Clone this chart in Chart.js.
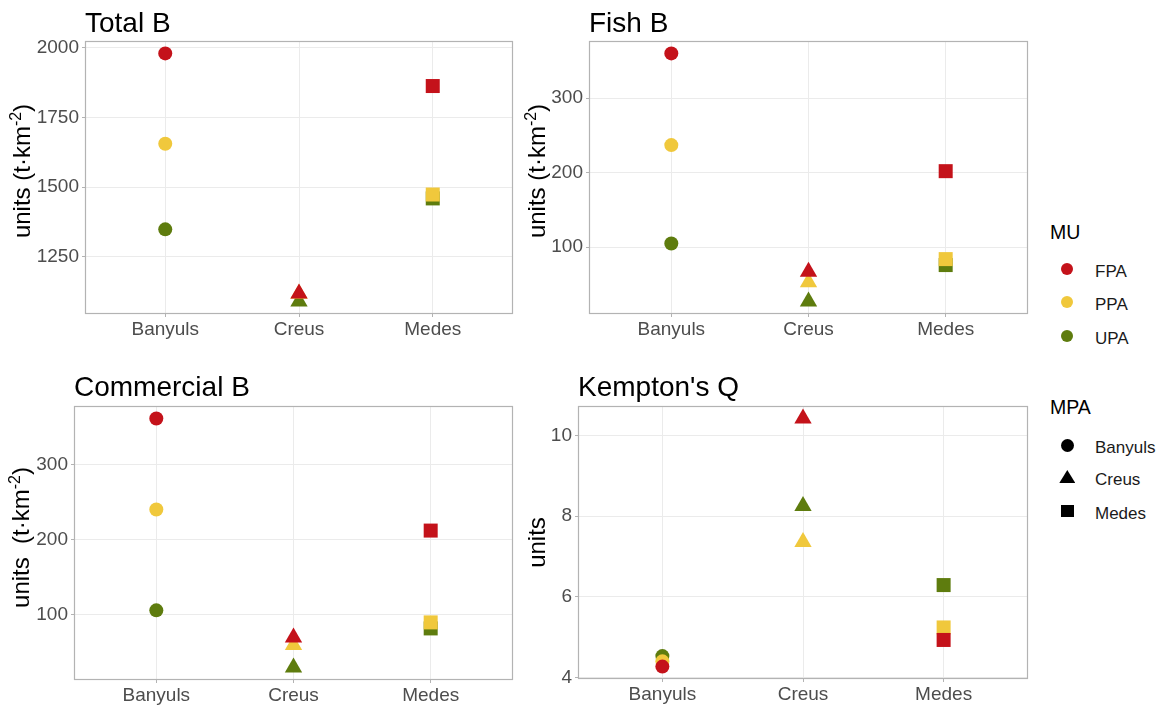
<!DOCTYPE html>
<html>
<head>
<meta charset="utf-8">
<script src="https://cdn.jsdelivr.net/npm/chart.js@4.4.0/dist/chart.umd.min.js"></script>
<style>
  html, body { margin: 0; padding: 0; background: #ffffff; }
  body { width: 1167px; height: 709px; overflow: hidden; position: relative;
         font-family: "Liberation Sans", Arial, sans-serif; }
  canvas { position: absolute; }
  .lt { position: absolute; left: 1050px; font-size: 19.5px; line-height: 19.5px; color: #000; white-space: nowrap; }
  .ll { position: absolute; left: 1095px; font-size: 17px; line-height: 17px; color: #1A1A1A; white-space: nowrap; }
  .mk { position: absolute; }
</style>
</head>
<body>
<canvas id="c1" width="520" height="345" style="left:0px;top:0px"></canvas>
<canvas id="c2" width="515" height="345" style="left:520px;top:0px"></canvas>
<canvas id="c3" width="520" height="349" style="left:0px;top:360px"></canvas>
<canvas id="c4" width="515" height="349" style="left:520px;top:360px"></canvas>

<div id="legend"></div>

<script>
// ---------------- DATA ----------------
const categories = ["Banyuls", "Creus", "Medes"];
const muGroups = ["FPA", "PPA", "UPA"];

const totalB_FPA = [1980, 1119, 1863];
const totalB_PPA = [1656, 1118, 1474];
const totalB_UPA = [1349, 1090, 1460];
const totalB_ticks = [1250, 1500, 1750, 2000];

const fishB_FPA = [360, 67, 202];
const fishB_PPA = [237, 53, 84];
const fishB_UPA = [105, 27, 76];
const fishB_ticks = [100, 200, 300];

const commB_FPA = [361, 70, 212];
const commB_PPA = [240, 60, 90];
const commB_UPA = [106, 30, 82];
const commB_ticks = [100, 200, 300];

const kempQ_FPA = [4.27, 10.42, 4.93];
const kempQ_PPA = [4.40, 7.36, 5.24];
const kempQ_UPA = [4.53, 8.25, 6.29];
const kempQ_ticks = [4, 6, 8, 10];

// ---------------- STYLE ----------------
const FONT = '"Liberation Sans", Arial, sans-serif';
const muColors = { FPA: "#C4121A", PPA: "#F0C83C", UPA: "#5E7C0E" };
const mpaStyles = ["circle", "triangle", "rect"];
const mpaRadius = [7, 10, 9.9];

const panelPlugin = {
  id: "panel",
  beforeDatasetsDraw(chart) {
    const { ctx, chartArea: a } = chart;
    ctx.save();
    ctx.strokeStyle = "#B3B3B3";
    ctx.lineWidth = 1.2;
    ctx.strokeRect(Math.round(a.left) + 0.5, Math.round(a.top) + 0.5,
                   Math.round(a.right - a.left) - 1, Math.round(a.bottom - a.top) - 1);
    ctx.restore();
  },
  afterDraw(chart, args, o) {
    const { ctx, chartArea: a } = chart;
    ctx.save();
    ctx.fillStyle = "#000";
    ctx.font = "28px " + FONT;
    ctx.textAlign = "left";
    ctx.textBaseline = "alphabetic";
    ctx.fillText(o.title, a.left, o.titleBaseline);
    const segs = o.ySegs;
    let total = 0;
    segs.forEach(s => { ctx.font = s.size + "px " + FONT; s.w = ctx.measureText(s.t).width; total += s.w; });
    ctx.translate(o.yTitleX, o.yTitleY);
    ctx.rotate(-Math.PI / 2);
    ctx.fillStyle = "#000";
    let x = -total / 2;
    segs.forEach(s => {
      ctx.font = s.size + "px " + FONT;
      ctx.fillText(s.t, x, -(s.raise || 0));
      x += s.w;
    });
    ctx.restore();
  }
};

function expandRange(arrs) {
  const all = [].concat(...arrs);
  const mn = Math.min(...all), mx = Math.max(...all);
  const d = (mx - mn) * 0.05;
  return [mn - d, mx + d];
}

function makePanel(id, fpa, ppa, upa, ticks, lay, pan) {
  const series = { FPA: fpa, PPA: ppa, UPA: upa };
  const [ymin, ymax] = expandRange([fpa, ppa, upa]);
  const datasets = muGroups.map(g => ({
    label: g,
    data: series[g].map((v, i) => ({ x: i, y: v })),
    backgroundColor: muColors[g],
    borderColor: muColors[g],
    pointBackgroundColor: muColors[g],
    pointBorderWidth: 0,
    pointStyle: mpaStyles,
    pointRadius: mpaRadius,
    pointHoverRadius: mpaRadius,
    showLine: false
  }));
  const tickFont = { family: FONT, size: 19 };
  new Chart(document.getElementById(id), {
    type: "scatter",
    data: { datasets },
    options: {
      responsive: false,
      animation: false,
      events: [],
      layout: { autoPadding: false, padding: { top: lay.padTop, right: lay.padRight, left: 0, bottom: 0 } },
      plugins: { legend: { display: false }, tooltip: { enabled: false }, panel: pan },
      scales: {
        x: {
          type: "linear", min: -0.6, max: 2.6,
          afterBuildTicks: s => { s.ticks = categories.map((c, i) => ({ value: i })); },
          afterFit: s => { s.height = lay.xh; },
          ticks: { callback: v => categories[v], font: tickFont, color: "#4D4D4D", padding: 1, maxRotation: 0, autoSkip: false },
          grid: { color: "#EBEBEB", lineWidth: 1, tickLength: 3, tickColor: "#B3B3B3", drawTicks: true },
          border: { display: false }
        },
        y: {
          type: "linear", min: ymin, max: ymax,
          afterBuildTicks: s => { s.ticks = ticks.map(v => ({ value: v })); },
          afterFit: s => { s.width = lay.yw; },
          ticks: { font: tickFont, color: "#4D4D4D", padding: 3, callback: v => String(v) },
          grid: { color: "#EBEBEB", lineWidth: 1, tickLength: 3, tickColor: "#B3B3B3", drawTicks: true },
          border: { display: false }
        }
      }
    },
    plugins: [panelPlugin]
  });
}

const unitSegs = (sp) => [
  { t: "units " + sp + "(t·km", size: 24 },
  { t: "-2", size: 16, raise: 9 },
  { t: ")", size: 24 }
];

makePanel("c1", totalB_FPA, totalB_PPA, totalB_UPA, totalB_ticks,
  { yw: 85, padTop: 41, xh: 31, padRight: 7 },
  { title: "Total B", titleBaseline: 31.5, ySegs: unitSegs(""), yTitleX: 30, yTitleY: 171 });
makePanel("c2", fishB_FPA, fishB_PPA, fishB_UPA, fishB_ticks,
  { yw: 69, padTop: 41, xh: 31, padRight: 7 },
  { title: "Fish B", titleBaseline: 31.5, ySegs: unitSegs(""), yTitleX: 25, yTitleY: 171 });
makePanel("c3", commB_FPA, commB_PPA, commB_UPA, commB_ticks,
  { yw: 74, padTop: 46, xh: 29, padRight: 7 },
  { title: "Commercial B", titleBaseline: 35.7, ySegs: unitSegs(" "), yTitleX: 29, yTitleY: 177.5 });
makePanel("c4", kempQ_FPA, kempQ_PPA, kempQ_UPA, kempQ_ticks,
  { yw: 58, padTop: 46, xh: 30, padRight: 7 },
  { title: "Kempton's Q", titleBaseline: 35.7, ySegs: [{ t: "units", size: 24 }], yTitleX: 25, yTitleY: 182.5 });

// ---------------- LEGEND (HTML) ----------------
const legendMU = muGroups;
const legendMPA = categories;
const leg = document.getElementById("legend");
function addDiv(cls, text, top, style) {
  const d = document.createElement("div");
  d.className = cls;
  if (text) d.textContent = text;
  d.style.top = top + "px";
  if (style) Object.assign(d.style, style);
  leg.appendChild(d);
  return d;
}
addDiv("lt", "MU", 222.5);
const muY = [269, 302.3, 336];
legendMU.forEach((g, i) => {
  addDiv("mk", "", muY[i] - 6, { left: (1067.3 - 6) + "px", width: "12px", height: "12px", borderRadius: "50%", background: muColors[g] });
  addDiv("ll", g, muY[i] - 6.5);
});
addDiv("lt", "MPA", 397.5);
const mpaY = [445, 477, 511];
addDiv("mk", "", mpaY[0] - 6.5, { left: (1067.3 - 6.5) + "px", width: "13px", height: "13px", borderRadius: "50%", background: "#000" });
addDiv("mk", "", mpaY[1] - 7, { left: (1067.3 - 8) + "px", width: "16px", height: "13px", background: "#000", clipPath: "polygon(50% 0, 100% 100%, 0 100%)" });
addDiv("mk", "", mpaY[2] - 6, { left: (1067.3 - 6.5) + "px", width: "13px", height: "12px", background: "#000" });
legendMPA.forEach((m, i) => addDiv("ll", m, mpaY[i] - 6.5));
</script>
</body>
</html>
